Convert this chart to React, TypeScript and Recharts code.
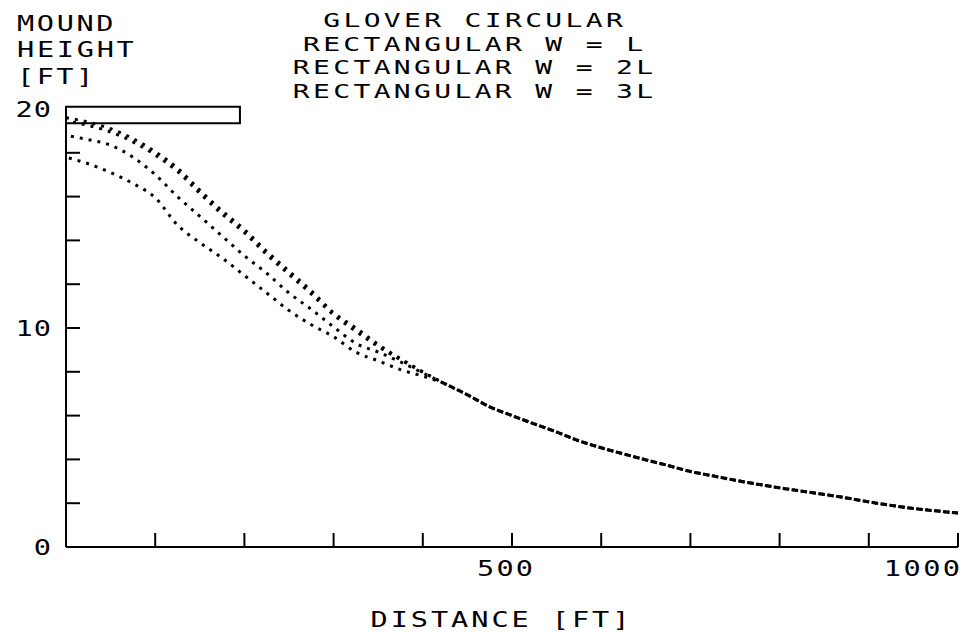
import React from 'react';
import { LineChart, Line, XAxis, YAxis, ReferenceArea, Legend } from 'recharts';

// distance along the section [ft]
const distances = [
  0, 25, 50, 75, 100, 125, 150, 175, 200, 225, 250, 275, 300, 325, 350, 375, 400,
  425, 450, 475, 500, 525, 550, 575, 600, 625, 650, 675, 700, 725, 750, 775, 800,
  825, 850, 875, 900, 925, 950, 975, 1000,
];

// mound height [ft]
const gloverCircular = [
  19.6, 19.4, 19.1, 18.65, 18.05, 17.3, 16.3, 15.35, 14.5, 13.5, 12.6, 11.7, 10.7, 10.0, 9.25, 8.6, 8.0,
  7.45, 6.95, 6.4, 6.0, 5.62, 5.25, 4.85, 4.53, 4.25, 3.98, 3.72, 3.45, 3.25, 3.05, 2.87, 2.7,
  2.55, 2.4, 2.24, 2.06, 1.9, 1.76, 1.65, 1.55,
];
const rectWL = [
  19.45, 19.25, 18.95, 18.5, 17.9, 17.15, 16.15, 15.2, 14.35, 13.35, 12.45, 11.55, 10.6, 9.85, 9.15, 8.55, 7.98,
  7.45, 6.95, 6.4, 6.0, 5.62, 5.25, 4.85, 4.53, 4.25, 3.98, 3.72, 3.45, 3.25, 3.05, 2.87, 2.7,
  2.55, 2.4, 2.24, 2.06, 1.9, 1.76, 1.65, 1.55,
];
const rectW2L = [
  18.8, 18.6, 18.35, 17.8, 17.0, 16.0, 15.1, 14.2, 13.3, 12.5, 11.6, 10.85, 10.05, 9.3, 8.9, 8.45, 7.95,
  7.45, 6.95, 6.4, 6.0, 5.62, 5.25, 4.85, 4.53, 4.25, 3.98, 3.72, 3.45, 3.25, 3.05, 2.87, 2.7,
  2.55, 2.4, 2.24, 2.06, 1.9, 1.76, 1.65, 1.55,
];
const rectW3L = [
  17.8, 17.5, 17.1, 16.6, 15.95, 14.7, 13.9, 13.2, 12.4, 11.6, 10.8, 10.15, 9.6, 8.9, 8.5, 8.1, 7.8,
  7.45, 6.95, 6.4, 6.0, 5.62, 5.25, 4.85, 4.53, 4.25, 3.98, 3.72, 3.45, 3.25, 3.05, 2.87, 2.7,
  2.55, 2.4, 2.24, 2.06, 1.9, 1.76, 1.65, 1.55,
];

const seriesKeys = ['circ', 'wl', 'w2l', 'w3l'];
const seriesNames = ['GLOVER CIRCULAR', 'RECTANGULAR W = L', 'RECTANGULAR W = 2L', 'RECTANGULAR W = 3L'];

const xTicks = [0, 100, 200, 300, 400, 500, 600, 700, 800, 900, 1000];
const xTickLabels: Record<number, string> = { 500: '500', 1000: '1000' };
const yTicks = [0, 2, 4, 6, 8, 10, 12, 14, 16, 18, 20];
const yTickLabels: Record<number, string> = { 0: '0', 10: '10', 20: '20' };
const yAxisTitle = ['MOUND', 'HEIGHT', '[FT]'];
const xAxisTitle = 'DISTANCE [FT]';
const boxDistance = [0, 195];
const boxHeight = [19.35, 20.1];

const data = distances.map((d, i) => ({
  x: d,
  circ: gloverCircular[i],
  wl: rectWL[i],
  w2l: rectW2L[i],
  w3l: rectW3L[i],
}));

const FONT = "'DejaVu Sans Mono', 'Liberation Mono', monospace";

const SpacedText = ({ x, y, text, anchor = 'start', size = 22, sx = 1.3 }: any) => {
  const len = text.length * 20.3 - 5;
  return (
    <text
      transform={`translate(${x},${y}) scale(${sx},1)`}
      x={0}
      y={0}
      textAnchor={anchor}
      textLength={len / sx}
      lengthAdjust="spacing"
      fontFamily={FONT}
      fontSize={size}
      fill="#000"
    >
      {text}
    </text>
  );
};

const XTick = (props: any) => {
  const { x, y, payload, index, visibleTicksCount } = props;
  const v = payload.value;
  const label = xTickLabels[v];
  const isLast = index === visibleTicksCount - 1;
  return (
    <g>
      {v !== 0 && <line x1={x} y1={y} x2={x} y2={y - 14} stroke="#000" strokeWidth={2} />}
      {label && (
        <SpacedText x={isLast ? x + 2 : x - 7} y={y + 29} text={label} anchor={isLast ? 'end' : 'middle'} />
      )}
    </g>
  );
};

const YTick = (props: any) => {
  const { x, y, payload } = props;
  const v = payload.value;
  const label = yTickLabels[v];
  return (
    <g>
      {v !== 0 && v !== 20 && <line x1={x} y1={y} x2={x + 14} y2={y} stroke="#000" strokeWidth={2} />}
      {label && <SpacedText x={x - 15} y={y + 8} text={label} anchor="end" />}
    </g>
  );
};

const YTitle = () => (
  <g>
    {yAxisTitle.map((t, i) => (
      <SpacedText key={t} x={17} y={[31, 57, 84][i]} text={t} anchor="start" />
    ))}
  </g>
);

const XTitle = () => <SpacedText x={500} y={627} text={xAxisTitle} anchor="middle" />;

const LegendContent = () => (
  <svg width={964} height={104} style={{ display: 'block' }}>
    {seriesNames.map((n, i) => (
      <SpacedText key={n} x={473} y={[27, 50.5, 74, 97.5][i]} text={n} anchor="middle" size={20} sx={1.4} />
    ))}
  </svg>
);

export default function App() {
  return (
    <div style={{ position: 'absolute', left: 0, top: 0, width: 964, height: 632, background: '#fff' }}>
      <LineChart width={964} height={632} data={data} margin={{ top: 109, right: 6, bottom: 84, left: 65 }}>
        <XAxis
          dataKey="x"
          type="number"
          domain={[0, 1000]}
          ticks={xTicks}
          interval={0}
          height={1}
          tickSize={0}
          tickMargin={0}
          tickLine={false}
          axisLine={{ stroke: '#000', strokeWidth: 2 }}
          tick={<XTick />}
          label={<XTitle />}
        />
        <YAxis
          type="number"
          domain={[0, 20]}
          ticks={yTicks}
          interval={0}
          width={1}
          tickSize={0}
          tickMargin={0}
          tickLine={false}
          axisLine={{ stroke: '#000', strokeWidth: 2 }}
          tick={<YTick />}
          label={<YTitle />}
        />
        <ReferenceArea
          x1={boxDistance[0]}
          x2={boxDistance[1]}
          y1={boxHeight[0]}
          y2={boxHeight[1]}
          fill="none"
          fillOpacity={0}
          stroke="#000"
          strokeWidth={2}
          ifOverflow="visible"
        />
        <Legend
          layout="vertical"
          align="center"
          verticalAlign="middle"
          wrapperStyle={{ position: 'absolute', top: 0, left: 0, width: 964, height: 104 }}
          content={<LegendContent />}
        />
        {seriesKeys.map((k, i) => (
          <Line
            key={k}
            dataKey={k}
            name={seriesNames[i]}
            type="monotone"
            stroke="#000"
            strokeWidth={3}
            strokeDasharray="3 6"
            strokeDashoffset={i * 2}
            dot={false}
            activeDot={false}
            isAnimationActive={false}
          />
        ))}
      </LineChart>
    </div>
  );
}
